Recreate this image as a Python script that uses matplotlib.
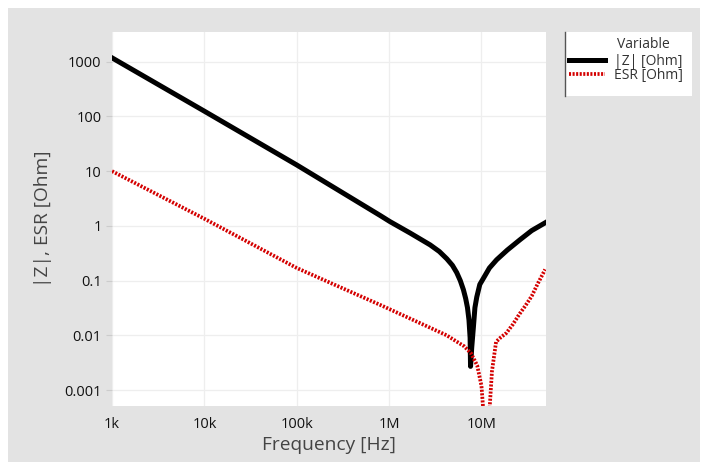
import matplotlib.pyplot as plt
from matplotlib.patches import Rectangle
from matplotlib.lines import Line2D
from matplotlib.ticker import FixedLocator, NullLocator

plt.rcParams['font.family'] = ['Open Sans', 'DejaVu Sans']

# |Z| curve
z_freq = [1e3, 1e4, 1e5, 8e5, 1.02e6, 1.69e6, 2.78e6, 3.5e6, 4.22e6, 4.85e6, 5.4e6, 5.9e6, 6.38e6,
          6.75e6, 7.06e6, 7.33e6, 7.54e6, 7.62e6, 7.85e6, 8.18e6, 8.5e6, 8.9e6, 9.6e6, 10.5e6,
          12.2e6, 14.6e6, 19e6, 26.2e6, 35e6, 49e6]
z_vals = [1180, 125, 13, 1.55, 1.2, 0.74, 0.45, 0.34, 0.25, 0.19, 0.14, 0.1, 0.068,
          0.047, 0.032, 0.019, 0.009, 0.0027, 0.006, 0.014, 0.032, 0.05, 0.085, 0.11,
          0.17, 0.24, 0.36, 0.56, 0.82, 1.14]

# ESR curve
esr_freq = [1e3, 1e4, 1e5, 8e5, 1.83e6, 4.2e6, 6.5e6, 7.7e6, 9e6, 10e6, 10.5e6, 12.2e6,
            13e6, 14.4e6, 16e6, 18.6e6, 22e6, 25.6e6, 30e6, 35e6, 41e6, 49e6]
esr_vals = [10, 1.35, 0.17, 0.036, 0.019, 0.010, 0.0063, 0.0047, 0.0028, 0.0012, 0.0004, 0.0004,
            0.0022, 0.0076, 0.009, 0.011, 0.016, 0.024, 0.035, 0.052, 0.09, 0.16]

x_ticks = [1e3, 1e4, 1e5, 1e6, 1e7]
x_labels = ['1k', '10k', '100k', '1M', '10M']
y_ticks = [0.001, 0.01, 0.1, 1, 10, 100, 1000]
y_labels = ['0.001', '0.01', '0.1', '1', '10', '100', '1000']

W, H = 706, 470
fig = plt.figure(figsize=(W / 100, H / 100), dpi=100)
fig.patch.set_facecolor('white')
fig.patches.append(Rectangle((8 / W, 8 / H), 692 / W, 454 / H, transform=fig.transFigure,
                             facecolor='#e3e3e3', edgecolor='none', zorder=-2))

ax = fig.add_axes([112 / W, 1 - 406 / H, (546 - 112) / W, (406 - 32) / H])
ax.set_zorder(2)
ax.set_facecolor('white')
ax.plot(z_freq, z_vals, color='black', lw=3.6, solid_joinstyle='round', label='|Z| [Ohm]')
ax.plot(esr_freq, esr_vals, color='#d40000', lw=2.7, linestyle=(0, (0.55, 0.4)),
        label='ESR [Ohm]')
ax.set_xscale('log')
ax.set_yscale('log')
ax.set_xlim(1e3, 5e7)
ax.set_ylim(5.1e-4, 3.5e3)

ax.xaxis.set_major_locator(FixedLocator(x_ticks))
ax.xaxis.set_minor_locator(NullLocator())
ax.set_xticklabels(x_labels)
ax.yaxis.set_major_locator(FixedLocator(y_ticks))
ax.yaxis.set_minor_locator(NullLocator())
ax.set_yticklabels(y_labels)
ax.tick_params(axis='both', labelsize=10.5, colors='#cccccc', labelcolor='#111111', length=4,
               width=0.8)
ax.tick_params(axis='x', length=0, pad=8)
ax.grid(True, color='#eeeeee', lw=0.9)
ax.set_axisbelow(True)
for s in ax.spines.values():
    s.set_visible(False)

ax.set_xlabel('Frequency [Hz]', fontsize=13.8, color='#444444', labelpad=3)
ax.set_ylabel('|Z|, ESR [Ohm]', fontsize=13.8, color='#444444', labelpad=9)

# legend box
fig.patches.append(Rectangle((565 / W, 1 - 96 / H), 127 / W, 64 / H, transform=fig.transFigure,
                             facecolor='white', edgecolor='none', zorder=-1))
fig.lines.append(Line2D([565 / W, 565 / W], [1 - 96 / H, 1 - 32 / H], transform=fig.transFigure,
                        color='#555555', lw=1.0))
fig.text(617 / W, 1 - 45 / H, 'Variable', fontsize=10, color='#333333', va='center')
handles, labels = ax.get_legend_handles_labels()
fig.legend(handles, labels, loc='upper left', bbox_to_anchor=(569 / W, 1 - 54 / H),
           frameon=False, fontsize=10, handlelength=2.6, handletextpad=0.65,
           labelspacing=-0.05, borderpad=0, borderaxespad=0, labelcolor='#333333')

fig.savefig('out.png', dpi=100)
